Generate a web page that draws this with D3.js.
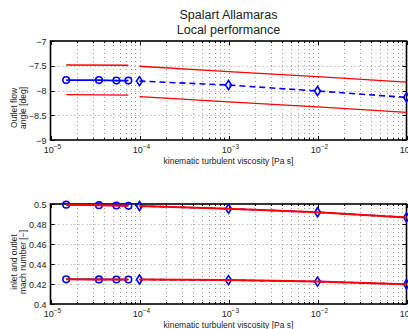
<!DOCTYPE html>
<html><head><meta charset="utf-8">
<script src="https://cdn.jsdelivr.net/npm/d3@7"></script>
<style>body{margin:0;background:#fff}svg{display:block;font-family:"Liberation Sans",Arial,sans-serif}</style>
</head><body><svg id="c" width="408" height="329"></svg>
<script>
// ---- data ----
const xCircles = [1.5e-5, 3.5e-5, 5.5e-5, 7.5e-5];
const xDiamonds = [1e-4, 1e-3, 1e-2, 1e-1];
const angleCircles = [-7.79, -7.79, -7.80, -7.80];
const angleDiamonds = [-7.81, -7.89, -8.01, -8.14];
const angleUpperShort = [-7.485, -7.49];
const angleLowerShort = [-8.085, -8.095];
const xShort = [1.5e-5, 7.5e-5];
const angleUpperLong = [-7.51, -7.62, -7.72, -7.83];
const angleLowerLong = [-8.125, -8.23, -8.33, -8.44];
const machOutCircles = [0.4993, 0.4988, 0.4985, 0.4982];
const machOutDiamonds = [0.4980, 0.4953, 0.4917, 0.4866];
const machInCircles = [0.4247, 0.4246, 0.4245, 0.4245];
const machInDiamonds = [0.4245, 0.4239, 0.4224, 0.4197];
const xTicks = [1e-5, 1e-4, 1e-3, 1e-2, 1e-1];
const xTickExp = ["−5", "−4", "−3", "−2", "−1"];
const angleTicks = [-9, -8.5, -8, -7.5, -7];
const angleTickLabels = ["−9", "−8.5", "−8", "−7.5", "−7"];
const machTicks = [0.4, 0.42, 0.44, 0.46, 0.48, 0.5];
const machTickLabels = ["0.4", "0.42", "0.44", "0.46", "0.48", "0.5"];

const svg = d3.select("#c");
const L = 50.5, R = 406.5;
const x = d3.scaleLog().domain([1e-5, 1e-1]).range([L, R]);
const minor = [];
for (let e = -5; e < -1; e++) for (let k = 2; k <= 9; k++) minor.push(k * Math.pow(10, e));

svg.append("text").attr("x", 228.5).attr("y", 19).attr("text-anchor", "middle")
  .attr("font-size", 12.5).attr("fill", "#222").text("Spalart Allamaras");
svg.append("text").attr("x", 228.5).attr("y", 34).attr("text-anchor", "middle")
  .attr("font-size", 12.5).attr("fill", "#222").text("Local performance");

function panel(top, bottom, ydom, yt, ytl, ylab1, ylab2, ylabY) {
  const y = d3.scaleLinear().domain(ydom).range([bottom, top]);
  const g = svg.append("g");
  const grid = g.append("g").attr("stroke", "#999").attr("stroke-width", 1).attr("stroke-dasharray", "1,3");
  minor.concat(xTicks.slice(1, -1)).forEach(v => {
    grid.append("line").attr("x1", Math.round(x(v)) + 0.5).attr("x2", Math.round(x(v)) + 0.5)
      .attr("y1", top).attr("y2", bottom);
  });
  yt.slice(1, -1).forEach(v => {
    grid.append("line").attr("x1", L).attr("x2", R).attr("y1", Math.round(y(v)) + 0.5).attr("y2", Math.round(y(v)) + 0.5);
  });
  // ticks
  const tk = g.append("g").attr("stroke", "#000").attr("stroke-width", 1);
  xTicks.forEach(v => {
    const px = Math.round(x(v)) + 0.5;
    tk.append("line").attr("x1", px).attr("x2", px).attr("y1", bottom).attr("y2", bottom - 4);
    tk.append("line").attr("x1", px).attr("x2", px).attr("y1", top).attr("y2", top + 4);
  });
  minor.forEach(v => {
    const px = Math.round(x(v)) + 0.5;
    tk.append("line").attr("x1", px).attr("x2", px).attr("y1", bottom).attr("y2", bottom - 2);
    tk.append("line").attr("x1", px).attr("x2", px).attr("y1", top).attr("y2", top + 2);
  });
  yt.forEach(v => {
    const py = Math.round(y(v)) + 0.5;
    tk.append("line").attr("x1", L).attr("x2", L + 4).attr("y1", py).attr("y2", py);
    tk.append("line").attr("x1", R).attr("x2", R - 4).attr("y1", py).attr("y2", py);
  });
  g.append("rect").attr("x", L).attr("y", top).attr("width", R - L).attr("height", bottom - top)
    .attr("fill", "none").attr("stroke", "#000").attr("stroke-width", 1.6);
  // tick labels
  yt.forEach((v, i) => {
    g.append("text").attr("x", L - 4).attr("y", y(v) + 3.5).attr("text-anchor", "end")
      .attr("font-size", 9).attr("fill", "#222").text(ytl[i]);
  });
  xTicks.forEach((v, i) => {
    const t = g.append("text").attr("x", x(v) + 2).attr("y", bottom + 13).attr("text-anchor", "middle")
      .attr("font-size", 9).attr("fill", "#222");
    t.append("tspan").text("10");
    t.append("tspan").attr("dy", -4).attr("font-size", 6.5).text(xTickExp[i]);
  });
  g.append("text").attr("x", 228.5).attr("y", bottom + 24).attr("text-anchor", "middle")
    .attr("font-size", 8.5).attr("fill", "#222").text("kinematic turbulent viscosity [Pa s]");
  const yl = g.append("text").attr("transform", `translate(17,${ylabY}) rotate(-90)`)
    .attr("text-anchor", "middle").attr("font-size", 8.5).attr("fill", "#222");
  yl.append("tspan").attr("x", 0).attr("dy", 0).text(ylab1);
  yl.append("tspan").attr("x", 0).attr("dy", 9).text(ylab2);
  return { g, y };
}

const line = (y) => d3.line().x(d => x(d[0])).y(d => y(d[1]));
const zip = (a, b) => a.map((v, i) => [v, b[i]]);

function drawBlue(g, y, xs, ys, dashed, marker) {
  g.append("path").datum(zip(xs, ys)).attr("d", line(y)).attr("fill", "none")
    .attr("stroke", "#0000ff").attr("stroke-width", 1.6)
    .attr("stroke-dasharray", dashed ? "6,4" : null);
  xs.forEach((v, i) => {
    const px = x(v), py = y(ys[i]);
    if (marker === "o") {
      g.append("circle").attr("cx", px).attr("cy", py).attr("r", 3.3).attr("fill", "none")
        .attr("stroke", "#0000ff").attr("stroke-width", 1.6);
    } else {
      g.append("path").attr("d", `M${px},${py - 4.5}L${px + 3},${py}L${px},${py + 4.5}L${px - 3},${py}Z`)
        .attr("fill", "none").attr("stroke", "#0000ff").attr("stroke-width", 1.6);
    }
  });
}
function drawRed(g, y, xs, ys, w) {
  g.append("path").datum(zip(xs, ys)).attr("d", line(y)).attr("fill", "none")
    .attr("stroke", "#ff0000").attr("stroke-width", w);
}

// top panel
const p1 = panel(41, 140, [-9, -7], angleTicks, angleTickLabels, "Outlet flow", "angle [deg]", 108);
drawRed(p1.g, p1.y, xShort, angleUpperShort, 1.3);
drawRed(p1.g, p1.y, xShort, angleLowerShort, 1.3);
drawRed(p1.g, p1.y, xDiamonds, angleUpperLong, 1.3);
drawRed(p1.g, p1.y, xDiamonds, angleLowerLong, 1.3);
drawBlue(p1.g, p1.y, xCircles, angleCircles, false, "o");
drawBlue(p1.g, p1.y, xDiamonds, angleDiamonds, true, "d");

// bottom panel
const p2 = panel(204, 304, [0.4, 0.5], machTicks, machTickLabels, "inlet and outlet", "mach number [−]", 262);
drawBlue(p2.g, p2.y, xCircles, machOutCircles, false, "o");
drawBlue(p2.g, p2.y, xDiamonds, machOutDiamonds, true, "d");
drawBlue(p2.g, p2.y, xCircles, machInCircles, false, "o");
drawBlue(p2.g, p2.y, xDiamonds, machInDiamonds, true, "d");
drawRed(p2.g, p2.y, xCircles, machOutCircles, 2);
drawRed(p2.g, p2.y, xDiamonds, machOutDiamonds, 2);
drawRed(p2.g, p2.y, xCircles, machInCircles, 2);
drawRed(p2.g, p2.y, xDiamonds, machInDiamonds, 2);
</script></body></html>
